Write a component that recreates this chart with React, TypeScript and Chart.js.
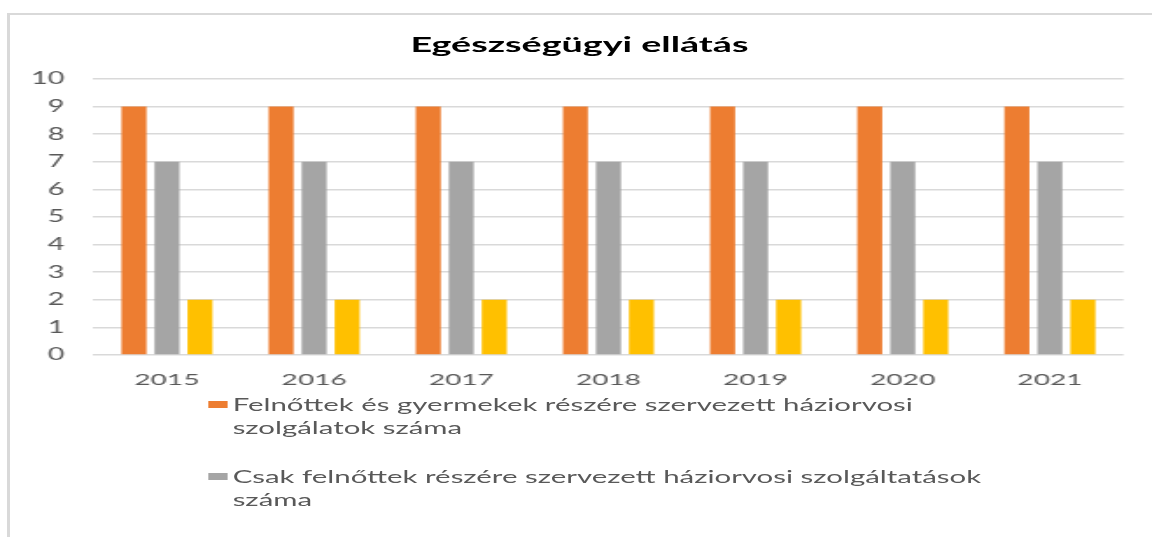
import React, { useEffect, useRef } from "react";
import { Chart, registerables } from "chart.js";

Chart.register(...registerables);

const chartTitle = "Egészségügyi ellátás";
const years = ["2015", "2016", "2017", "2018", "2019", "2020", "2021"];
const adultsAndChildren = [9, 9, 9, 9, 9, 9, 9];
const adultsOnly = [7, 7, 7, 7, 7, 7, 7];
const childrenOnly = [2, 2, 2, 2, 2, 2, 2];
const seriesLabels = [
  "Felnőttek és gyermekek részére szervezett háziorvosi\nszolgálatok száma",
  "Csak felnőttek részére szervezett háziorvosi szolgáltatások\nszáma",
  "Csak gyermekek részére szervezett házi gyermekorvosi\nszolgálatok száma",
];
const seriesColors = ["#ED7D31", "#A5A5A5", "#FFC000"];
const yMin = 0;
const yMax = 10;
const yStep = 1;

const STRETCH = 1.75;
const W = Math.round(1152 / STRETCH);
const H = 537;
const FONT = "Lato, 'Open Sans', sans-serif";

export default function App() {
  const ref = useRef<HTMLCanvasElement | null>(null);

  useEffect(() => {
    if (!ref.current) return;
    const seriesValues = [adultsAndChildren, adultsOnly, childrenOnly];
    const chart = new Chart(ref.current, {
      type: "bar",
      data: {
        labels: years,
        datasets: seriesValues.map((vals, i) => ({
          label: seriesLabels[i],
          data: vals,
          backgroundColor: seriesColors[i],
          borderWidth: 0,
          categoryPercentage: 0.673,
          barPercentage: 0.757,
        })),
      },
      options: {
        responsive: false,
        animation: false,
        layout: { padding: { top: 79, left: 1.2, right: W - 641.7, bottom: 145.8 } },
        plugins: {
          legend: { display: false },
          tooltip: { enabled: false },
          title: { display: false },
        },
        scales: {
          x: {
            grid: { display: false, drawTicks: true, tickLength: 13 },
            border: { display: false },
            ticks: { color: "#595959", font: { family: FONT, size: 16 }, padding: 2 },
          },
          y: {
            min: yMin,
            max: yMax,
            ticks: { stepSize: yStep, color: "#595959", font: { family: FONT, size: 16.5 }, padding: 16.5 },
            grid: { color: "#D9D9D9", lineWidth: 1.5, drawTicks: false },
            border: { display: false },
          },
        },
      },
    });
    return () => chart.destroy();
  }, []);

  return (
    <div
      style={{
        position: "absolute",
        left: 0,
        top: 0,
        width: 1152,
        height: 537,
        overflow: "hidden",
        background: "#ffffff",
      }}
    >
      <div
        style={{
          position: "absolute",
          left: 7,
          top: 13,
          width: 1300,
          height: 700,
          borderLeft: "3px solid #D9D9D9",
          borderTop: "2px solid #D9D9D9",
        }}
      />
      <div
        style={{
          position: "absolute",
          left: 0,
          top: 0,
          width: W,
          height: H,
          transform: `scaleX(${1152 / W})`,
          transformOrigin: "0 0",
        }}
      >
        <canvas ref={ref} width={W} height={H} style={{ position: "absolute", left: 0, top: 0 }} />
        <div
          style={{
            position: "absolute",
            left: 331 - 200,
            width: 400,
            top: 31,
            textAlign: "center",
            fontFamily: FONT,
            fontWeight: "bold",
            fontSize: 21.5,
            lineHeight: "26px",
            color: "#000000",
            whiteSpace: "nowrap",
          }}
        >
          {chartTitle}
        </div>
        {seriesLabels.map((lab, i) => (
          <div
            key={i}
            style={{
              position: "absolute",
              left: 119.4,
              top: 393 + i * 72,
              display: "flex",
              alignItems: "flex-start",
            }}
          >
            <div
              style={{
                width: 10.3,
                height: 7,
                marginTop: 8,
                background: seriesColors[i],
                flex: "none",
              }}
            />
            <div
              style={{
                marginLeft: 3.2,
                whiteSpace: "pre",
                fontFamily: FONT,
                fontSize: 16.8,
                lineHeight: "23px",
                color: "#595959",
              }}
            >
              {lab}
            </div>
          </div>
        ))}
      </div>
    </div>
  );
}
